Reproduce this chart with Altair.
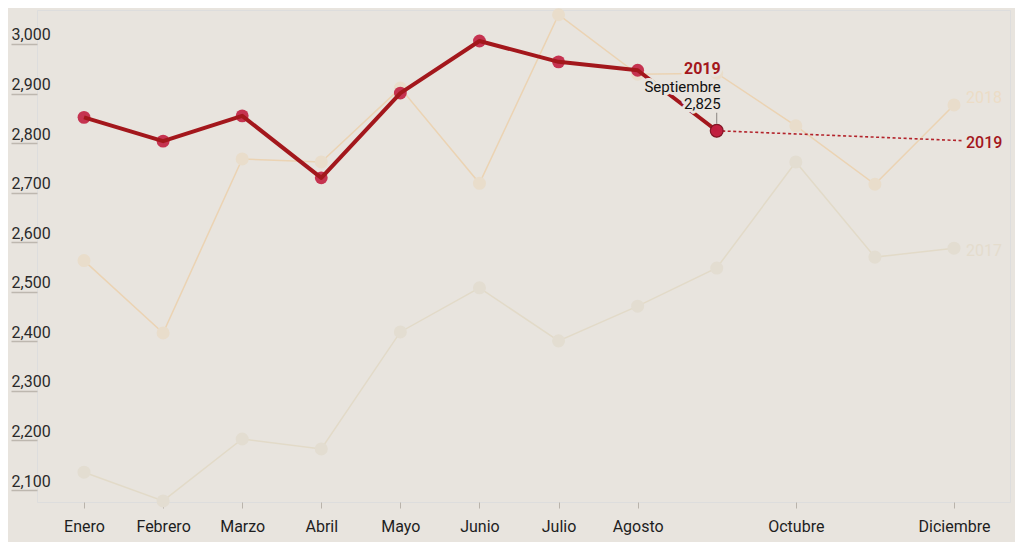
import altair as alt
import pandas as pd

meses = ["Enero", "Febrero", "Marzo", "Abril", "Mayo", "Junio", "Julio",
         "Agosto", "Septiembre", "Octubre", "Noviembre", "Diciembre"]
mes_num = list(range(1, 13))
v2017 = [2136, 2078, 2203, 2183, 2419, 2508, 2401, 2471, 2548, 2762, 2570, 2588]
v2018 = [2563, 2417, 2768, 2762, 2911, 2719, 3059, 2939, 2941, 2835, 2717, 2877]
v2019 = [2852, 2804, 2855, 2730, 2901, 3006, 2964, 2947, 2825]
proy_mes = [9, 12.1]
proy_val = [2825, 2805]
eje_x_ticks = [1, 2, 3, 4, 5, 6, 7, 8, 10, 12]
eje_y_ticks = [2100, 2200, 2300, 2400, 2500, 2600, 2700, 2800, 2900, 3000]

BG = "#e8e4de"
RED = "#a3171c"
FONT = "Roboto"

d17 = pd.DataFrame({"mes": mes_num, "valor": v2017})
d18 = pd.DataFrame({"mes": mes_num, "valor": v2018})
d19 = pd.DataFrame({"mes": mes_num[:len(v2019)], "valor": v2019})
dproy = pd.DataFrame({"mes": proy_mes, "valor": proy_val})

xscale = alt.Scale(domain=[0.4057, 12.708], nice=False, zero=False)
yscale = alt.Scale(domain=[2075.9, 3068.6], nice=False, zero=False)

label_expr = "[" + ",".join(f"'{m}'" for m in meses) + "][datum.value - 1]"

X = alt.X("mes:Q", scale=xscale, axis=alt.Axis(
    values=eje_x_ticks, labelExpr=label_expr, title=None, grid=False, domain=False,
    tickSize=6, tickColor="#b9b3ab", tickWidth=1, labelPadding=10,
    labelFontSize=16, labelColor="#1e1e1e", labelFont=FONT))
Y = alt.Y("valor:Q", scale=yscale, axis=alt.Axis(
    values=eje_y_ticks, format=",.0f", title=None, grid=False, domain=False,
    tickSize=26, tickColor="#bdb7af", tickWidth=1.5, labelAlign="left",
    labelBaseline="bottom", labelPadding=0, labelOffset=-1,
    labelFontSize=16, labelColor="#2a2a2a", labelFont=FONT))

line17 = alt.Chart(d17).mark_line(color="#e2dac8", strokeWidth=1.5).encode(x=X, y=Y)
pts17 = alt.Chart(d17).mark_circle(color="#e3ddd1", opacity=1, size=170).encode(x="mes:Q", y="valor:Q")
line18 = alt.Chart(d18).mark_line(color="#ebd3b3", strokeWidth=1.5).encode(x="mes:Q", y="valor:Q")
pts18 = alt.Chart(d18).mark_circle(color="#e9ddcb", opacity=1, size=170).encode(x="mes:Q", y="valor:Q")

proy = alt.Chart(dproy).mark_line(color="#b3232b", strokeWidth=1.6, strokeDash=[3, 2.5]).encode(x="mes:Q", y="valor:Q")
pts19 = alt.Chart(d19).mark_circle(color="#c11f40", opacity=0.9, size=165).encode(x="mes:Q", y="valor:Q")
line19 = alt.Chart(d19).mark_line(color=RED, strokeWidth=4, strokeJoin="round").encode(x="mes:Q", y="valor:Q")
last19 = alt.Chart(d19.tail(1)).mark_circle(color="#c11f40", opacity=0.95, size=165,
                                            stroke="#7c1422", strokeWidth=1.2).encode(x="mes:Q", y="valor:Q")

ann = pd.DataFrame({
    "mes": [9, 9, 9],
    "valor": [v2019[-1]] * 3,
    "texto": ["2019", meses[8], f"{v2019[-1]:,}"],
})

def ann_text(row_idx, dy, color, weight, halo):
    kw = dict(align="right", baseline="middle", dx=4, dy=dy, font=FONT,
              fontSize=15 if row_idx else 16, fontWeight=weight, color=color)
    if halo:
        kw.update(stroke=BG, strokeWidth=6, strokeJoin="round")
    return alt.Chart(ann.iloc[[row_idx]]).mark_text(**kw).encode(
        x="mes:Q", y="valor:Q", text="texto:N")

halos = [ann_text(0, -62, RED, "bold", True), ann_text(1, -44, "#111", "normal", True),
         ann_text(2, -27, "#111", "normal", True)]
texts = [ann_text(0, -62, RED, "bold", False), ann_text(1, -44, "#111", "normal", False),
         ann_text(2, -27, "#111", "normal", False)]

tick = alt.Chart(d19.tail(1)).mark_rule(color="#8a8580", strokeWidth=1, yOffset=-18, y2Offset=-7).encode(
    x="mes:Q", y="valor:Q", y2="valor:Q")

rlab = pd.DataFrame({
    "mes": [12, 12, 12],
    "valor": [v2018[-1], proy_val[-1], v2017[-1]],
    "texto": ["2018", "2019", "2017"],
})
lab18 = alt.Chart(rlab.iloc[[0]]).mark_text(align="left", baseline="middle", dx=12, dy=-7, font=FONT,
                                            fontSize=16, color="#ecdcc6").encode(x="mes:Q", y="valor:Q", text="texto:N")
lab19 = alt.Chart(rlab.iloc[[1]]).mark_text(align="left", baseline="middle", dx=12, dy=2, font=FONT,
                                            fontSize=16, fontWeight=500, color=RED).encode(x="mes:Q", y="valor:Q", text="texto:N")
lab17 = alt.Chart(rlab.iloc[[2]]).mark_text(align="left", baseline="middle", dx=12, dy=3, font=FONT,
                                            fontSize=16, color="#e4dccd").encode(x="mes:Q", y="valor:Q", text="texto:N")

chart = alt.layer(
    line17, pts17, line18, pts18, proy, pts19, line19, last19,
    *halos, *texts, tick, lab18, lab19, lab17
).properties(
    width=973, height=492,
    autosize=alt.AutoSizeParams(type="none"),
    padding={"left": 29, "top": 2, "right": 5, "bottom": 40},
    background=BG,
).configure_view(stroke=None).configure(font=FONT)

chart.save("out.html", embed_options={"renderer": "svg", "actions": False})
